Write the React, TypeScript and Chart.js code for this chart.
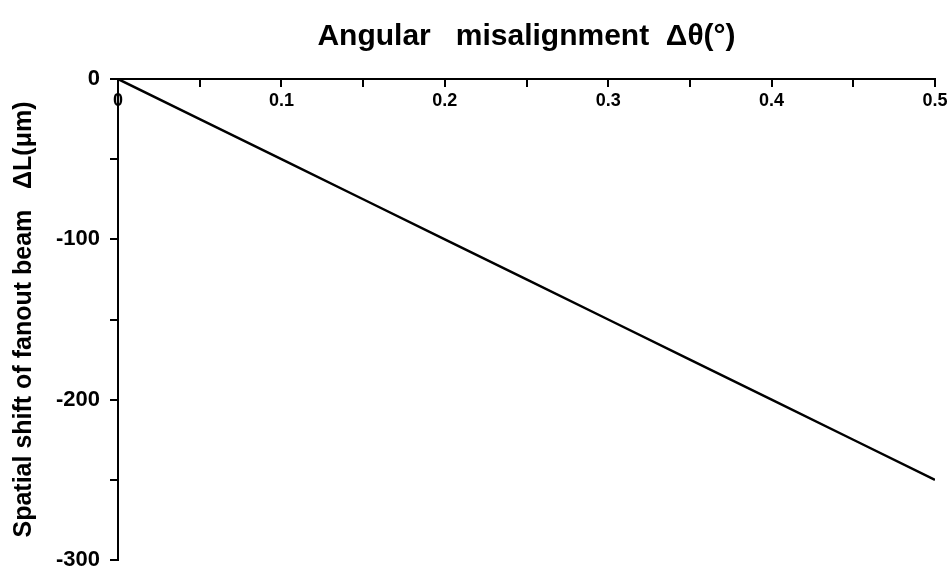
import React, { useEffect, useRef } from "react";
import { Chart, registerables } from "chart.js";

Chart.register(...registerables);

const xValues = [0, 0.05, 0.1, 0.15, 0.2, 0.25, 0.3, 0.35, 0.4, 0.45, 0.5];
const yValues = [0, -25, -50, -75, -100, -125, -150, -175, -200, -225, -250];
const xTickLabels = ["0", "0.1", "0.2", "0.3", "0.4", "0.5"];
const yTickValues = [0, -100, -200, -300];
const yTickLabels = ["0", "-100", "-200", "-300"];
const xTitle = "Angular   misalignment  Δθ(°)";
const yTitle = "Spatial shift of fanout beam   ΔL(μm)";

const FONT = "'Liberation Sans', Arial, sans-serif";

export default function App() {
  const ref = useRef<HTMLCanvasElement | null>(null);
  useEffect(() => {
    if (!ref.current) return;
    Chart.defaults.color = "#000";
    const chart = new Chart(ref.current, {
      type: "line",
      data: {
        datasets: [
          {
            data: xValues.map((x, i) => ({ x, y: yValues[i] })),
            borderColor: "#000",
            borderWidth: 2.5,
            pointRadius: 0,
            fill: false,
            tension: 0,
          },
        ],
      },
      options: {
        animation: false,
        responsive: false,
        layout: { padding: { left: 0, top: 0, right: 14, bottom: 7 } },
        plugins: { legend: { display: false }, tooltip: { enabled: false } },
        scales: {
          x: {
            type: "linear",
            position: "top",
            min: 0,
            max: 0.5,
            afterFit: (s: any) => {
              s.height = 79;
              s.paddingLeft = 0;
              s.paddingRight = 0;
            },
            border: { display: true, color: "#000", width: 2 },
            grid: {
              drawOnChartArea: false,
              drawTicks: true,
              tickLength: -8,
              color: "#000",
              lineWidth: 2,
            },
            ticks: {
              stepSize: 0.05,
              autoSkip: false,
              maxRotation: 0,
              mirror: true,
              padding: 11,
              color: "#000",
              font: { family: FONT, size: 18, weight: "bold" },
              callback: (_v: any, index: number) =>
                index % 2 === 0 ? xTickLabels[index / 2] : "",
            },
            title: {
              display: true,
              text: xTitle,
              color: "#000",
              font: { family: FONT, size: 30, weight: "bold" },
              padding: { top: 19, bottom: 0 },
            },
          },
          y: {
            type: "linear",
            position: "left",
            min: -300,
            max: 0,
            afterFit: (s: any) => {
              s.width = 118;
              s.paddingTop = 0;
              s.paddingBottom = 0;
            },
            border: { display: true, color: "#000", width: 2 },
            grid: {
              drawOnChartArea: false,
              drawTicks: true,
              tickLength: 8,
              color: "#000",
              lineWidth: 2,
            },
            ticks: {
              stepSize: 50,
              autoSkip: false,
              padding: 10,
              color: "#000",
              font: { family: FONT, size: 22, weight: "bold" },
              callback: (v: any) => {
                const i = yTickValues.indexOf(Number(v));
                return i >= 0 ? yTickLabels[i] : "";
              },
            },
            title: {
              display: true,
              text: yTitle,
              color: "#000",
              font: { family: FONT, size: 25, weight: "bold" },
              padding: { top: 9, bottom: 0 },
            },
          },
        },
      },
    });
    return () => chart.destroy();
  }, []);
  return (
    <div style={{ position: "absolute", left: 0, top: 0, width: 949, height: 567, background: "#fff" }}>
      <canvas ref={ref} width={949} height={567} style={{ display: "block" }} />
    </div>
  );
}
